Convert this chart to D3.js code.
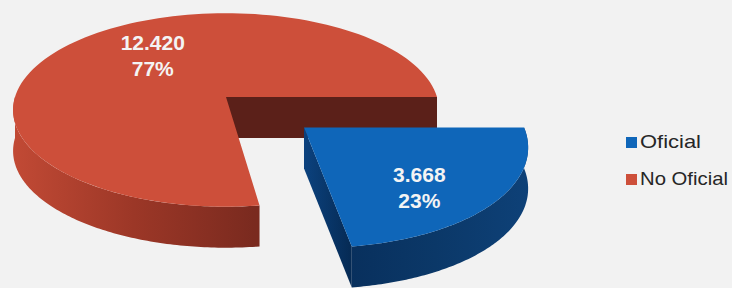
<!DOCTYPE html>
<html><head><meta charset="utf-8">
<script src="https://cdn.jsdelivr.net/npm/d3@7"></script>
<style>html,body{margin:0;padding:0;background:#f2f2f2;}svg{display:block;}</style>
</head><body>
<svg id="c" width="732" height="288"></svg>
<script>
// ---- data ----
const categories = ["Oficial", "No Oficial"];
const values = [3668, 12420];
const valueLabels = ["3.668", "12.420"];
const percentLabels = ["23%", "77%"];

// ---- style / layout ----
const W = 732, H = 288;
const CX = 226, CY = 97, RX = 211, RY = 95, K = 0.134, DEPTH = 41;
const EXPLODE = [0.47, 0];
const labelR = [0.7, 0.6];
const labelNudge = [8 * Math.PI / 180, 11 * Math.PI / 180];
const topCol = ["#0f66b9", "#cd4f3a"];
const cutCol = ["#0a396c", "#5b2019"];
const legendWidths = [61, 88];

const svg = d3.select("#c");
svg.append("rect").attr("width", W).attr("height", H).attr("fill", "#f2f2f2");
const defs = svg.append("defs");
function grad(id, stops, x1, x2) {
  const g = defs.append("linearGradient").attr("id", id)
    .attr("gradientUnits", "userSpaceOnUse").attr("x1", x1).attr("x2", x2).attr("y1", 0).attr("y2", 0);
  stops.forEach(s => g.append("stop").attr("offset", s[0]).attr("stop-color", s[1]));
}
grad("redSide", [[0, "#c24a35"], [0.5, "#9c3727"], [1, "#7a2a1f"]], 12, 255);
grad("blueSide", [[0, "#082f5c"], [0.5, "#0b3868"], [1, "#0e4178"]], 340, 530);
grad("blueCut", [[0, "#0c4482"], [1, "#062b55"]], 300, 350);

const xS = d3.scaleLinear().domain([-1, 1]).range([CX - RX, CX + RX]);
const yS = d3.scaleLinear().domain([-1, 1]).range([CY - RY, CY + RY]);
function P(u, v, z) {
  const s = 1 / (1 - K * v);
  return [xS(u * s), yS(v * s) + z * DEPTH];
}

const pie = d3.pie().sort(null).startAngle(Math.PI / 2).endAngle(Math.PI / 2 + 2 * Math.PI);
const arcs = pie(values).map((d, i) => {
  const t0 = d.startAngle - Math.PI / 2, t1 = d.endAngle - Math.PI / 2;
  const mid = (t0 + t1) / 2;
  return { i, t0, t1, mid, ox: EXPLODE[i] * Math.cos(mid), oy: EXPLODE[i] * Math.sin(mid) };
});
const line = d3.line();
function pt(a, r, t, z) { return P(r * Math.cos(t) + a.ox, r * Math.sin(t) + a.oy, z); }
function arcPts(a, tA, tB, z) {
  const n = 120, out = [];
  for (let j = 0; j <= n; j++) out.push(pt(a, 1, tA + (tB - tA) * j / n, z));
  return out;
}

function drawSlice(a) {
  const g = svg.append("g");
  const i = a.i;
  if (i === 1) {
    const tA = a.t0, tB = Math.PI;
    const wall = arcPts(a, tA, tB, 0).concat(arcPts(a, tA, tB, 1).reverse());
    g.append("path").attr("d", line(wall) + "Z").attr("fill", "url(#redSide)");
    const f = [pt(a, 0, a.t1, 0), pt(a, 1, a.t1, 0), pt(a, 1, a.t1, 1), pt(a, 0, a.t1, 1)];
    g.append("path").attr("d", line(f) + "Z").attr("fill", cutCol[i]);
  } else {
    const f = [pt(a, 0, a.t1, 0), pt(a, 1, a.t1, 0), pt(a, 1, a.t1, 1), pt(a, 0, a.t1, 1)];
    g.append("path").attr("d", line(f) + "Z").attr("fill", "url(#blueCut)");
    const wall = arcPts(a, a.t0, a.t1, 0).concat(arcPts(a, a.t0, a.t1, 1).reverse());
    g.append("path").attr("d", line(wall) + "Z").attr("fill", "url(#blueSide)");
  }
  const top = [pt(a, 0, 0, 0)].concat(arcPts(a, a.t0, a.t1, 0));
  g.append("path").attr("d", line(top) + "Z").attr("fill", topCol[i]);
}
drawSlice(arcs[1]);
drawSlice(arcs[0]);

// labels
arcs.forEach(a => {
  const t = a.mid + labelNudge[a.i];
  const p = pt(a, labelR[a.i], t, 0);
  const tg = svg.append("text").attr("text-anchor", "middle")
    .attr("font-family", "Liberation Sans, Arial, sans-serif").attr("font-weight", "bold")
    .attr("font-size", 21).attr("fill", "#f4f4f4");
  tg.append("tspan").attr("x", p[0]).attr("y", p[1] - 5).text(valueLabels[a.i]);
  tg.append("tspan").attr("x", p[0]).attr("y", p[1] + 21).text(percentLabels[a.i]);
});

// legend
const leg = svg.append("g").attr("transform", "translate(626,137)");
categories.forEach((c, i) => {
  const gi = leg.append("g").attr("transform", `translate(0,${i * 37})`);
  gi.append("rect").attr("width", 11).attr("height", 11).attr("fill", topCol[i]);
  const tg = gi.append("g").attr("transform", "translate(14,11)");
  const tx = tg.append("text")
    .attr("font-family", "Liberation Sans, Arial, sans-serif").attr("font-size", 18)
    .attr("fill", "#262626").text(c);
  const w = tx.node().getComputedTextLength();
  tx.attr("transform", `scale(${legendWidths[i] / w},1)`);
});
</script>
</body></html>
